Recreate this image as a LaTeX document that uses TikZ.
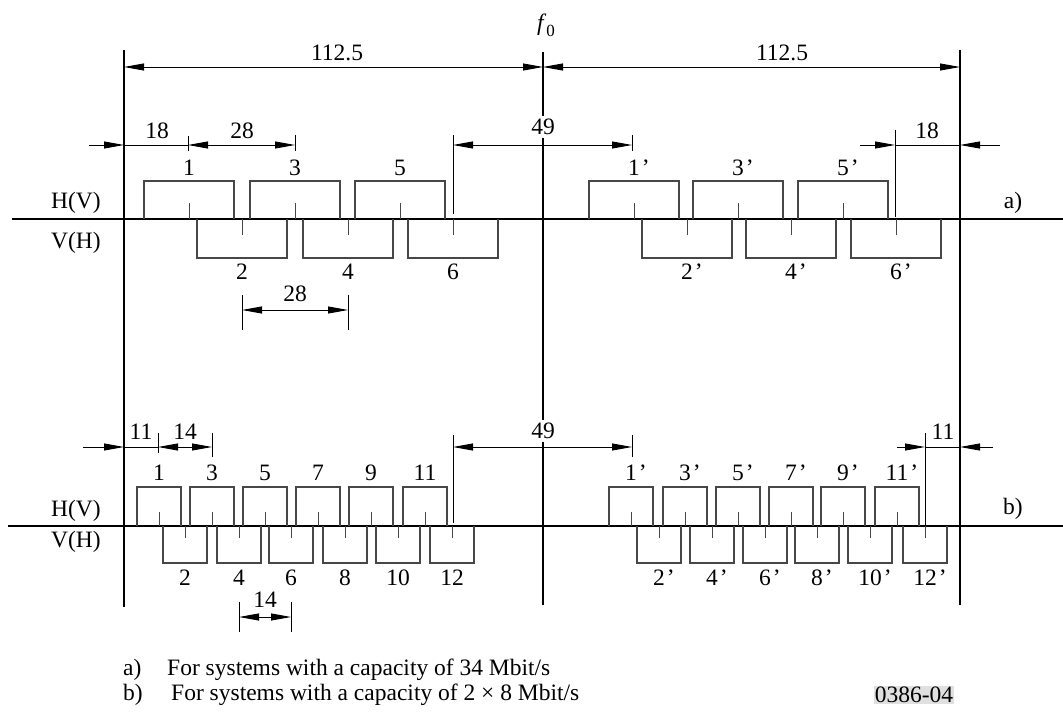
\documentclass[tikz,border=0pt]{standalone}
\usepackage{fontspec}
\setmainfont{Liberation Serif}
\usetikzlibrary{arrows.meta}
\begin{document}
\begin{tikzpicture}[x=1pt,y=-1pt,
  lbl/.style={inner sep=1pt, font=\fontsize{23.5}{28}\selectfont},
  mainline/.style={line width=2.2pt},
  axisline/.style={line width=1.3pt},
  chan/.style={line width=1.1pt, draw=black!72},
  ctick/.style={line width=0.9pt, draw=black!72},
  dim/.style={line width=0.9pt},
  tipend/.style={-{Triangle[length=20pt,width=7pt]}},
  dimboth/.style={{Triangle[length=20pt,width=7pt]}-{Triangle[length=20pt,width=7pt]}, line width=0.9pt},
]
\useasboundingbox (0,0) rectangle (1063,715);

% main vertical lines
\coordinate (Ltop) at (124,50);  \coordinate (Lbot) at (124,607);
\coordinate (Ctop) at (543,52);  \coordinate (Cbot) at (543,605);
\coordinate (Rtop) at (960,50);  \coordinate (Rbot) at (960,605);
\draw[mainline] (Ltop) -- (Lbot);
\draw[mainline] (Ctop) -- (Cbot);
\draw[mainline] (Rtop) -- (Rbot);

% axes
\coordinate (axAs) at (12,219); \coordinate (axAe) at (1063,219);
\coordinate (axBs) at (8,526);  \coordinate (axBe) at (1063,526);
\draw[axisline] (axAs) -- (axAe);
\draw[axisline] (axBs) -- (axBe);

% f0
\node[lbl] (f0) at (546,25) {\textit{f}\raisebox{-6pt}{\fontsize{17}{17}\selectfont 0}};

% 112.5 dimensions
\coordinate (d1a) at (124,67); \coordinate (d1b) at (543,67); \coordinate (d1c) at (960,67);
\draw[dimboth] (d1a) -- (d1b);
\draw[dimboth] (d1b) -- (d1c);
\node[lbl] (t1125a) at (337,53) {112.5};
\node[lbl] (t1125b) at (782,53) {112.5};

% ---------- a) dimension row ----------
\coordinate (a18s) at (89,145); \coordinate (a18e) at (124,145);
\coordinate (a28s) at (188,145); \coordinate (a28e) at (295,145);
\draw[dim,tipend] (a18s) -- (a18e);
\draw[dim] (a18e) -- (a28s);
\draw[dimboth] (a28s) -- (a28e);
\draw[dim] (188,136) -- (188,151);
\draw[dim] (295,135) -- (295,151);
\node[lbl] (t18a) at (157,131) {18};
\node[lbl] (t28a) at (242,131) {28};

\coordinate (a49s) at (453,145); \coordinate (a49e) at (632,145);
\draw[dimboth] (a49s) -- (a49e);
\draw[dim] (453,135) -- (453,214);
\draw[dim] (632,135) -- (632,151);
\node[lbl, fill=white, inner ysep=3pt] (t49a) at (543,127) {49};

\coordinate (ar18s) at (860,145); \coordinate (ar18m) at (895,145);
\coordinate (ar18e) at (960,145); \coordinate (ar18o) at (1000,145);
\draw[dim,tipend] (ar18s) -- (ar18m);
\draw[dim] (ar18m) -- (ar18e);
\draw[dim,tipend] (ar18o) -- (ar18e);
\draw[dim] (895,130) -- (895,217);
\node[lbl] (t18ar) at (927,131) {18};

% ---------- a) channels ----------
\foreach \c/\n in {189/1,295/3,400/5} {
  \draw[chan] ({\c-45},219) |- ({\c+45},181) -- ({\c+45},219);
  \draw[ctick] (\c,219) -- (\c,203);
  \node[lbl] (au\n) at (\c,168) {\n};
}
\foreach \c/\n in {242/2,348/4,453/6} {
  \draw[chan] ({\c-45},219) |- ({\c+45},258) -- ({\c+45},219);
  \draw[ctick] (\c,219) -- (\c,235);
  \node[lbl] (al\n) at (\c,272) {\n};
}
\foreach \c/\n in {634/1,738/3,843/5} {
  \draw[chan] ({\c-45},219) |- ({\c+45},181) -- ({\c+45},219);
  \draw[ctick] (\c,219) -- (\c,203);
  \node[lbl] (aup\n) at (\c,168) {\n\rlap{\kern2pt’}};
}
\foreach \c/\n in {687/2,791/4,896/6} {
  \draw[chan] ({\c-45},219) |- ({\c+45},258) -- ({\c+45},219);
  \draw[ctick] (\c,219) -- (\c,235);
  \node[lbl] (alp\n) at (\c,272) {\n\rlap{\kern2pt’}};
}
\node[lbl] (hva) at (76,203) {H(V)};
\node[lbl] (vha) at (76,243) {V(H)};
\node[lbl] (laba) at (1013,203) {a)};

% 28 lower dimension
\coordinate (a28bs) at (242,310); \coordinate (a28be) at (348,310);
\draw[dimboth] (a28bs) -- (a28be);
\draw[dim] (242,295) -- (242,330);
\draw[dim] (348,295) -- (348,330);
\node[lbl] (t28b) at (295,294) {28};

% ---------- b) dimension row ----------
\coordinate (b11s) at (83,447); \coordinate (b11e) at (124,447);
\coordinate (b14s) at (158,447); \coordinate (b14e) at (212,447);
\draw[dim,tipend] (b11s) -- (b11e);
\draw[dim] (b11e) -- (b14s);
\draw[dimboth] (b14s) -- (b14e);
\draw[dim] (158,433) -- (158,453);
\draw[dim] (212,433) -- (212,457);
\node[lbl] (t11b) at (141,432) {11};
\node[lbl] (t14b) at (185,432) {14};

\coordinate (b49s) at (453,447); \coordinate (b49e) at (632,447);
\draw[dimboth] (b49s) -- (b49e);
\draw[dim] (453,435) -- (453,523);
\draw[dim] (632,435) -- (632,457);
\node[lbl, fill=white, inner ysep=3pt] (t49b) at (543,431) {49};

\coordinate (br11s) at (897,447); \coordinate (br11m) at (925,447);
\coordinate (br11e) at (960,447); \coordinate (br11o) at (993,447);
\draw[dim,tipend] (br11s) -- (br11m);
\draw[dim] (br11m) -- (br11e);
\draw[dim,tipend] (br11o) -- (br11e);
\draw[dim] (925,433) -- (925,538);
\node[lbl] (t11br) at (943,432) {11};

% ---------- b) channels ----------
\foreach \c/\n in {159/1,212/3,265/5,318/7,371/9,425/11} {
  \draw[chan] ({\c-22},526) |- ({\c+22},487) -- ({\c+22},526);
  \draw[ctick] (\c,526) -- (\c,512);
  \node[lbl] (bu\n) at (\c,473) {\n};
}
\foreach \c/\n in {185/2,239/4,291/6,345/8,398/10,452/12} {
  \draw[chan] ({\c-22},526) |- ({\c+22},563) -- ({\c+22},526);
  \draw[ctick] (\c,526) -- (\c,538);
  \node[lbl] (bl\n) at (\c,578) {\n};
}
\foreach \c/\n in {631/1,685/3,738/5,791/7,843/9,897/11} {
  \draw[chan] ({\c-22},526) |- ({\c+22},487) -- ({\c+22},526);
  \draw[ctick] (\c,526) -- (\c,512);
  \node[lbl] (bup\n) at (\c,473) {\n\rlap{\kern2pt’}};
}
\foreach \c/\n in {659/2,712/4,765/6,817/8,870/10,925/12} {
  \draw[chan] ({\c-22},526) |- ({\c+22},563) -- ({\c+22},526);
  \draw[ctick] (\c,526) -- (\c,538);
  \node[lbl] (blp\n) at (\c,578) {\n\rlap{\kern2pt’}};
}
\node[lbl] (hvb) at (76,511) {H(V)};
\node[lbl] (vhb) at (76,542) {V(H)};
\node[lbl] (labb) at (1013,509) {b)};

% 14 lower dimension
\coordinate (b14bs) at (239,617); \coordinate (b14be) at (291,617);
\draw[dimboth] (b14bs) -- (b14be);
\draw[dim] (239,602) -- (239,632);
\draw[dim] (291,602) -- (291,632);
\node[lbl] (t14bb) at (265,600) {14};

% captions
\node[lbl, anchor=west] (capa) at (122,670) {a)};
\node[lbl, anchor=west] (capatext) at (166,670) {For systems with a capacity of 34 Mbit/s};
\node[lbl, anchor=west] (capb) at (122,695) {b)};
\node[lbl, anchor=west] (capbtext) at (170,695) {For systems with a capacity of 2 × 8 Mbit/s};
\node[lbl, fill=black!12, inner sep=1pt] (fignum) at (914,695) {0386-04};
\end{tikzpicture}
\end{document}
